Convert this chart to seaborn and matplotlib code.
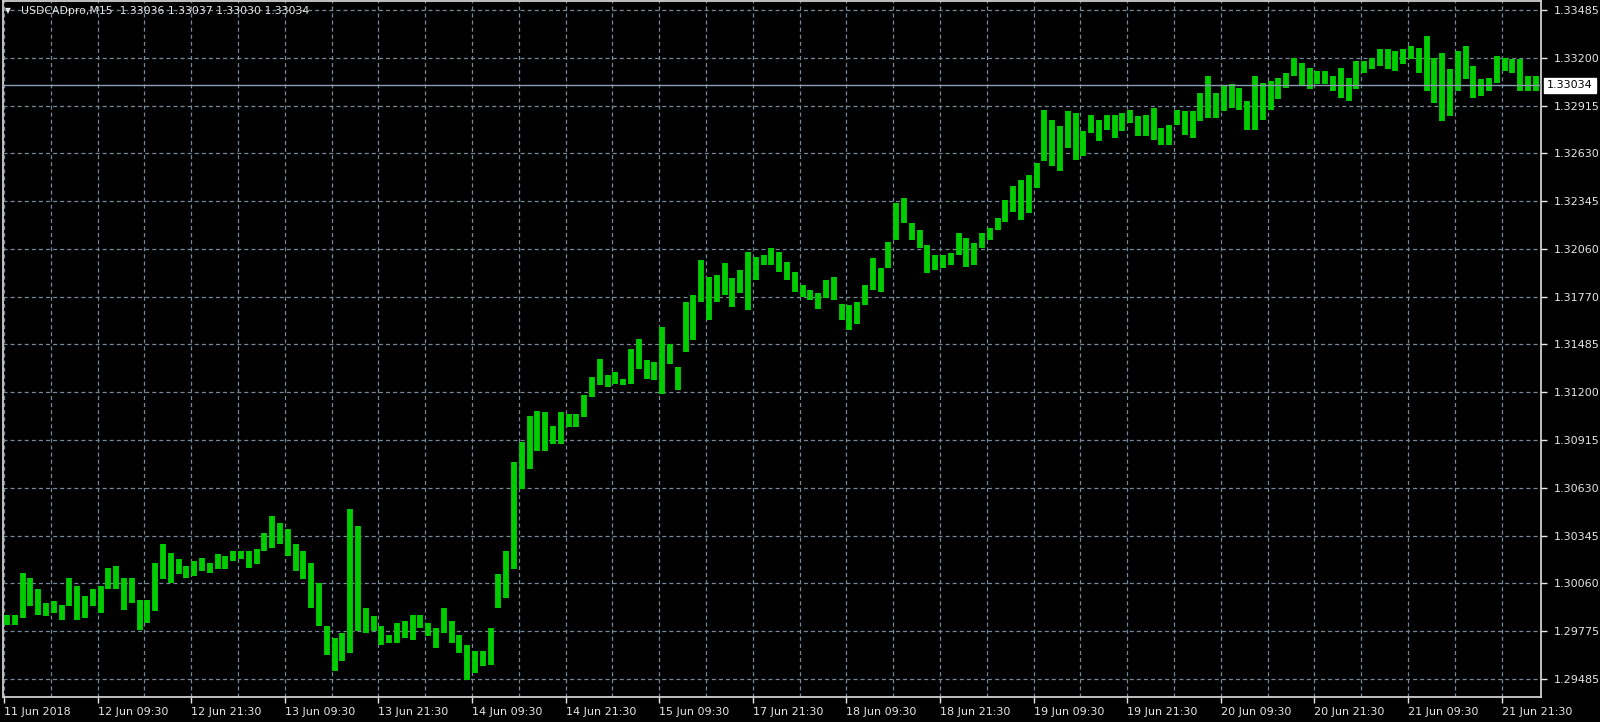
import numpy as np
import pandas as pd
import matplotlib
matplotlib.use("Agg")
import matplotlib.pyplot as plt
import seaborn as sns
from matplotlib.transforms import blended_transform_factory

# ---------------- data ----------------
symbol = "USDCADpro,M15"
ohlc_last = ["1.33036", "1.33037", "1.33030", "1.33034"]
last_price = 1.33034
bars_per_sample = 4  # each sample covers four M15 bars

bar_high = [
    1.2987, 1.2987, 1.3012, 1.3009, 1.3002, 1.2994, 1.2995, 1.2993, 1.3009, 1.3004,
    1.2998, 1.3002, 1.3004, 1.3015, 1.3016, 1.3009, 1.3009, 1.2996, 1.2996, 1.3018,
    1.3029, 1.3024, 1.3020, 1.3016, 1.3019, 1.3021, 1.3018, 1.3023, 1.3022, 1.3025,
    1.3025, 1.3025, 1.3026, 1.3036, 1.3046, 1.3042, 1.3038, 1.3029, 1.3025, 1.3018,
    1.3006, 1.2980, 1.2973, 1.2976, 1.3050, 1.3040, 1.2991, 1.2986, 1.2980, 1.2975,
    1.2982, 1.2983, 1.2987, 1.2987, 1.2982, 1.2979, 1.2991, 1.2983, 1.2975, 1.2969,
    1.2965, 1.2965, 1.2979, 1.3011, 1.3025, 1.3078, 1.3090, 1.3106, 1.3109, 1.3108,
    1.3100, 1.3108, 1.3107, 1.3107, 1.3118, 1.3129, 1.3140, 1.3130, 1.3132, 1.3128,
    1.3146, 1.3152, 1.3139, 1.3138, 1.3159, 1.3149, 1.3135, 1.3174, 1.3178, 1.3199,
    1.3189, 1.3190, 1.3197, 1.3188, 1.3193, 1.3204, 1.3201, 1.3202, 1.3206, 1.3204,
    1.3198, 1.3192, 1.3184, 1.3181, 1.3179, 1.3187, 1.3189, 1.3173, 1.3172, 1.3174,
    1.3184, 1.3200, 1.3194, 1.3210, 1.3233, 1.3236, 1.3221, 1.3217, 1.3208, 1.3202,
    1.3202, 1.3203, 1.3215, 1.3212, 1.3209, 1.3215, 1.3218, 1.3224, 1.3235, 1.3243,
    1.3247, 1.3250, 1.3257, 1.3289, 1.3283, 1.3279, 1.3288, 1.3287, 1.3276, 1.3286,
    1.3283, 1.3286, 1.3286, 1.3287, 1.3289, 1.3285, 1.3286, 1.3290, 1.3278, 1.3280,
    1.3289, 1.3288, 1.3288, 1.3299, 1.3309, 1.3299, 1.3303, 1.3304, 1.3302, 1.3294,
    1.3309, 1.3305, 1.3306, 1.3308, 1.3311, 1.3320, 1.3317, 1.3314, 1.3312, 1.3312,
    1.3309, 1.3314, 1.3308, 1.3318, 1.3318, 1.3320, 1.3325, 1.3325, 1.3324, 1.3325,
    1.3327, 1.3326, 1.3333, 1.3320, 1.3323, 1.3313, 1.3324, 1.3327, 1.3315, 1.3307,
    1.3308, 1.3321, 1.3320, 1.3319, 1.3319, 1.3309, 1.3309,
]
bar_low = [
    1.2981, 1.2981, 1.2985, 1.2992, 1.2987, 1.2986, 1.2988, 1.2984, 1.2992, 1.2984,
    1.2985, 1.2992, 1.2988, 1.3002, 1.3002, 1.2990, 1.2994, 1.2978, 1.2982, 1.2989,
    1.3008, 1.3006, 1.3011, 1.3009, 1.3010, 1.3013, 1.3012, 1.3014, 1.3014, 1.3019,
    1.3020, 1.3015, 1.3017, 1.3025, 1.3027, 1.3029, 1.3022, 1.3013, 1.3008, 1.2991,
    1.2980, 1.2963, 1.2953, 1.2959, 1.2964, 1.2977, 1.2976, 1.2977, 1.2969, 1.2970,
    1.2970, 1.2973, 1.2972, 1.2979, 1.2974, 1.2967, 1.2976, 1.2970, 1.2964, 1.2948,
    1.2952, 1.2956, 1.2957, 1.2991, 1.2997, 1.3014, 1.3062, 1.3074, 1.3085, 1.3085,
    1.3089, 1.3089, 1.3099, 1.3099, 1.3105, 1.3117, 1.3124, 1.3123, 1.3125, 1.3124,
    1.3125, 1.3134, 1.3128, 1.3127, 1.3119, 1.3137, 1.3121, 1.3144, 1.3151, 1.3174,
    1.3163, 1.3174, 1.3178, 1.3171, 1.3179, 1.3169, 1.3187, 1.3196, 1.3196, 1.3192,
    1.3187, 1.3180, 1.3177, 1.3175, 1.3170, 1.3176, 1.3175, 1.3163, 1.3157, 1.3161,
    1.3172, 1.3181, 1.3180, 1.3194, 1.3211, 1.3221, 1.3211, 1.3206, 1.3191, 1.3193,
    1.3194, 1.3196, 1.3202, 1.3195, 1.3196, 1.3206, 1.3211, 1.3217, 1.3222, 1.3228,
    1.3223, 1.3227, 1.3242, 1.3258, 1.3255, 1.3252, 1.3266, 1.3259, 1.3261, 1.3275,
    1.3270, 1.3277, 1.3272, 1.3276, 1.3281, 1.3273, 1.3273, 1.3271, 1.3268, 1.3268,
    1.3280, 1.3274, 1.3272, 1.3282, 1.3284, 1.3284, 1.3288, 1.3290, 1.3289, 1.3277,
    1.3277, 1.3283, 1.3289, 1.3295, 1.3302, 1.3309, 1.3303, 1.3301, 1.3304, 1.3304,
    1.3300, 1.3296, 1.3294, 1.3301, 1.3311, 1.3313, 1.3315, 1.3313, 1.3312, 1.3316,
    1.3319, 1.3311, 1.3300, 1.3293, 1.3282, 1.3285, 1.3300, 1.3307, 1.3296, 1.3297,
    1.3300, 1.3305, 1.3312, 1.3311, 1.3300, 1.3300, 1.3300,
]

y_tick_labels = ["1.33485", "1.33200", "1.32915", "1.32630", "1.32345", "1.32060",
                 "1.31770", "1.31485", "1.31200", "1.30915", "1.30630", "1.30345",
                 "1.30060", "1.29775", "1.29485"]
x_tick_labels = ["11 Jun 2018", "12 Jun 09:30", "12 Jun 21:30", "13 Jun 09:30",
                 "13 Jun 21:30", "14 Jun 09:30", "14 Jun 21:30", "15 Jun 09:30",
                 "17 Jun 21:30", "18 Jun 09:30", "18 Jun 21:30", "19 Jun 09:30",
                 "19 Jun 21:30", "20 Jun 09:30", "20 Jun 21:30", "21 Jun 09:30",
                 "21 Jun 21:30"]
bars_per_label = 48  # 12 hours of M15 bars

# ---------------- style ----------------
BG = "#000000"
BAR = "#00cc00"
GRID = "#778899"
FG = "#e6e6e6"

sns.set_theme(style="dark", rc={
    "figure.facecolor": BG, "axes.facecolor": BG, "savefig.facecolor": BG,
    "axes.edgecolor": "#d0d0d0", "text.color": FG,
    "xtick.color": FG, "ytick.color": FG,
    "lines.scale_dashes": False,
})
plt.rcParams["font.family"] = ["DejaVu Sans"]

df = pd.DataFrame({"high": bar_high, "low": bar_low})
df["bar"] = np.arange(len(df)) * bars_per_sample + 1.5

fig = plt.figure(figsize=(16, 7.22), dpi=100)
ax = fig.add_axes([3 / 1600, 25 / 722, 1538 / 1600, 696 / 722])

y_ticks = np.linspace(1.29485, 1.33485, len(y_tick_labels))
x_ticks = np.arange(len(x_tick_labels)) * bars_per_label
x_minor = np.arange(0, 790, bars_per_label // 2)

ax.set_xlim(-0.5, 788.2)
ax.set_ylim(1.29377, 1.33539)

ax.set_yticks(y_ticks)
ax.set_yticklabels(y_tick_labels[::-1])
ax.yaxis.tick_right()
ax.set_xticks(x_ticks)
ax.set_xticklabels(x_tick_labels, ha="left")
ax.set_xticks(x_minor, minor=True)

ax.grid(True, which="major", axis="y", color=GRID, lw=0.9, ls=(0, (2.9, 2.2)))
ax.grid(True, which="both", axis="x", color=GRID, lw=0.9, ls=(0, (2.9, 2.2)))
ax.set_axisbelow(True)

ax.tick_params(axis="y", which="major", direction="out", length=4, width=1,
               pad=5, labelsize=8, colors=FG, right=True, left=False)
ax.tick_params(axis="x", which="major", direction="out", length=4, width=1,
               pad=3, labelsize=8, colors=FG, bottom=True)
ax.tick_params(axis="x", which="minor", length=0)

for s in ax.spines.values():
    s.set_visible(True)
    s.set_color("#d0d0d0")
    s.set_linewidth(1.3)

# bars (high-low range of each sample)
ax.vlines(df["bar"], df["low"], df["high"], color=BAR, lw=4.2, zorder=3)

# current price line + label
ax.axhline(last_price, color="#8c9cb0", lw=1.0, zorder=4)
trans = blended_transform_factory(ax.transAxes, ax.transData)
ax.text(1.0 + 6 / 1538, last_price, f"{last_price:.5f}", transform=trans,
        ha="left", va="center", color="black", fontsize=8, zorder=6,
        bbox=dict(boxstyle="square,pad=0.25", fc="white", ec="white"),
        clip_on=False)

ax.set_xlabel("")
ax.set_ylabel("")

# title
fig.text(5 / 1600, 1 - 11 / 722, "\u25BC", fontsize=5.5, color=FG, va="center", ha="left")
fig.text(21 / 1600, 1 - 11 / 722, f"{symbol}  " + " ".join(ohlc_last),
         fontsize=7.8, color=FG, va="center", ha="left")

fig.savefig("out.png", dpi=100, facecolor=BG)
